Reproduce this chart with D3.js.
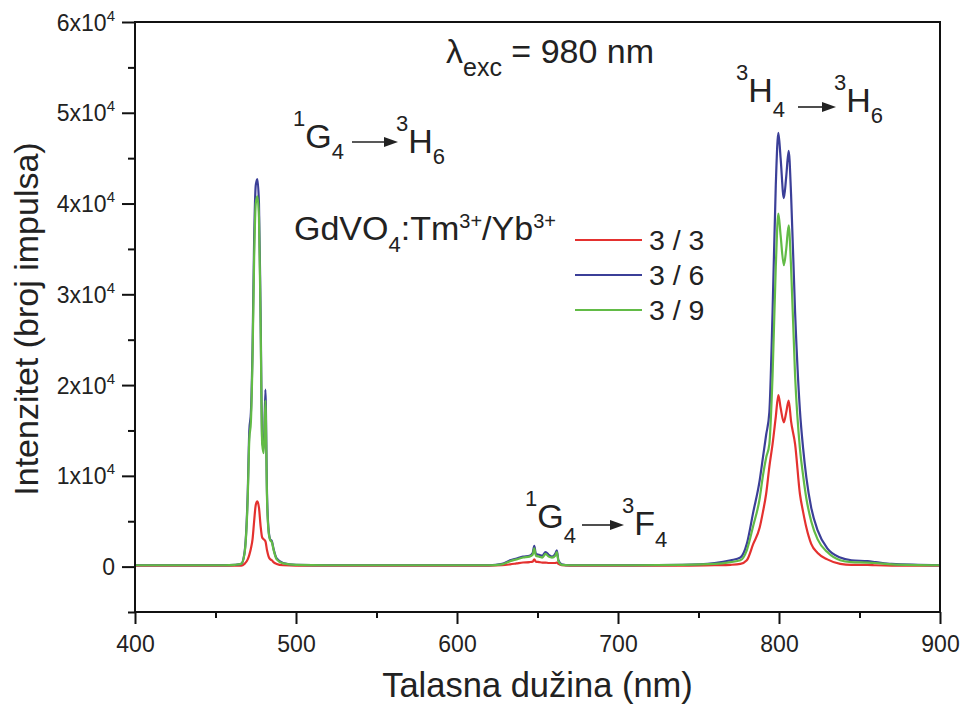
<!DOCTYPE html>
<html>
<head>
<meta charset="utf-8">
<script src="https://cdn.jsdelivr.net/npm/d3@7"></script>
<style>
  html, body { margin: 0; padding: 0; background: #fff; }
  svg { display: block; font-family: "Liberation Sans", Arial, Helvetica, sans-serif; }
</style>
</head>
<body>
<svg id="chart" width="963" height="709"></svg>
<script>
// ---------------- DATA ----------------
const wavelength = [400, 420, 440, 455, 462, 466, 468, 470, 471, 472, 473, 474, 475, 476, 477, 478, 479, 480, 481, 482, 483, 484, 485, 486, 488, 492, 500, 520, 560, 600, 620, 628, 633, 637, 641, 645, 647, 648, 649, 651, 653, 655, 657, 659, 661, 662, 663, 665, 670, 700, 740, 760, 770, 776, 780, 784, 788, 790, 792, 794, 796, 798, 799.6, 801, 803, 804.5, 806, 807.5, 810, 813, 815, 817, 820, 824, 830, 838, 845, 855, 860, 870, 900];

const series33 = [100, 100, 100, 100, 100, 100, 300, 800, 1300, 2000, 3000, 5000, 6800, 7200, 6500, 4500, 3200, 3000, 2800, 1800, 1100, 800, 700, 500, 300, 150, 100, 100, 100, 100, 100, 150, 250, 350, 450, 500, 550, 800, 550, 500, 450, 450, 400, 400, 400, 450, 300, 150, 100, 100, 100, 150, 200, 300, 700, 2500, 4300, 6000, 8000, 11000, 13500, 16500, 18900, 17500, 15900, 17000, 18300, 16000, 13500, 8000, 6000, 4300, 2500, 1500, 800, 300, 200, 200, 150, 100, 100];

const series36 = [150, 150, 150, 150, 200, 300, 1500, 8000, 15000, 17000, 24000, 36000, 42000, 42700, 40000, 28000, 14000, 13000, 19500, 8000, 4000, 3000, 2800, 2000, 900, 400, 200, 150, 150, 150, 150, 300, 700, 900, 1100, 1200, 1500, 2300, 1400, 1300, 1200, 1600, 1300, 1100, 1400, 1800, 700, 250, 150, 150, 200, 400, 700, 1000, 2500, 6000, 9500, 12000, 14500, 17000, 28000, 42000, 47800, 45000, 40600, 43000, 45800, 41000, 28000, 17200, 13000, 9800, 6500, 4000, 2000, 1000, 700, 600, 500, 300, 150];

const series39 = [150, 150, 150, 150, 200, 300, 1400, 7500, 14000, 16000, 23000, 34000, 40000, 40800, 38500, 27000, 13500, 12500, 18300, 7500, 3800, 2900, 2700, 1900, 800, 350, 200, 150, 150, 150, 150, 250, 600, 800, 1000, 1100, 1300, 2000, 1200, 1100, 1000, 1400, 1100, 1000, 1200, 1600, 600, 200, 150, 150, 200, 300, 500, 700, 1800, 4500, 7500, 10000, 12000, 13500, 21000, 33000, 38900, 36500, 33200, 35000, 37600, 33000, 21000, 13000, 10000, 7500, 5000, 3000, 1600, 700, 500, 450, 400, 250, 150];

const seriesNames = ["3 / 3", "3 / 6", "3 / 9"];
const seriesColors = ["#e4312f", "#3b3f98", "#62bb46"];

const xMajorTicks = [400, 500, 600, 700, 800, 900];
const xMinorTicks = [450, 550, 650, 750, 850];
const yMajorTicks = [0, 10000, 20000, 30000, 40000, 50000, 60000];
const yMajorLabels = [["0", ""], ["1x10", "4"], ["2x10", "4"], ["3x10", "4"], ["4x10", "4"], ["5x10", "4"], ["6x10", "4"]];
const yMinorTicks = [-5000, 5000, 15000, 25000, 35000, 45000, 55000];

// ---------------- CHART ----------------
const svg = d3.select("#chart");
const L = 135, R = 940, T = 22, B = 612;
const x = d3.scaleLinear().domain([400, 900]).range([L, R]);
const y = d3.scaleLinear().domain([-5000, 60000]).range([B, T]);

// data lines
const allSeries = [series33, series36, series39];
const line = d3.line()
  .x((d, i) => x(wavelength[i]))
  .y(d => y(d))
  .curve(d3.curveMonotoneX);

const gLines = svg.append("g");
allSeries.forEach((s, k) => {
  gLines.append("path")
    .datum(s)
    .attr("fill", "none")
    .attr("stroke", seriesColors[k])
    .attr("stroke-width", 2.2)
    .attr("stroke-linejoin", "round")
    .attr("d", line);
});

// frame
svg.append("rect")
  .attr("x", L).attr("y", T)
  .attr("width", R - L).attr("height", B - T)
  .attr("fill", "none").attr("stroke", "#111").attr("stroke-width", 2);

// x axis
const xAxisMajor = d3.axisBottom(x).tickValues(xMajorTicks).tickSize(12).tickSizeOuter(0).tickFormat(d => d);
const xAxisMinor = d3.axisBottom(x).tickValues(xMinorTicks).tickSize(6).tickSizeOuter(0).tickFormat("");
const gx = svg.append("g").attr("transform", `translate(0,${B})`).call(xAxisMajor);
const gxm = svg.append("g").attr("transform", `translate(0,${B})`).call(xAxisMinor);
[gx, gxm].forEach(g => {
  g.select(".domain").remove();
  g.selectAll(".tick line").attr("stroke", "#111").attr("stroke-width", 2);
});
gx.selectAll(".tick text")
  .attr("y", 40).attr("dy", 0)
  .attr("font-size", 23).attr("fill", "#222")
  .attr("font-family", "'Liberation Sans', Arial, sans-serif");

// y axis
const yAxisMajor = d3.axisLeft(y).tickValues(yMajorTicks).tickSize(13).tickSizeOuter(0).tickFormat("");
const yAxisMinor = d3.axisLeft(y).tickValues(yMinorTicks).tickSize(7).tickSizeOuter(0).tickFormat("");
const gy = svg.append("g").attr("transform", `translate(${L},0)`).call(yAxisMajor);
const gym = svg.append("g").attr("transform", `translate(${L},0)`).call(yAxisMinor);
[gy, gym].forEach(g => {
  g.select(".domain").remove();
  g.selectAll(".tick line").attr("stroke", "#111").attr("stroke-width", 2);
});
gy.selectAll(".tick text").each(function(d, i) {
  const t = d3.select(this)
    .attr("x", -20).attr("dy", null).attr("y", 8)
    .attr("font-size", 23).attr("fill", "#222")
    .attr("text-anchor", "end")
    .attr("font-family", "'Liberation Sans', Arial, sans-serif");
  t.text(null);
  t.append("tspan").text(yMajorLabels[i][0]);
  if (yMajorLabels[i][1]) t.append("tspan").attr("dy", -10).attr("font-size", 15).text(yMajorLabels[i][1]);
});

// axis titles
svg.append("text")
  .attr("x", (L + R) / 2).attr("y", 697)
  .attr("text-anchor", "middle").attr("font-size", 34.5).attr("fill", "#222")
  .text("Talasna dužina (nm)");
svg.append("text")
  .attr("transform", `translate(38,${(T + B) / 2 + 2}) rotate(-90)`)
  .attr("text-anchor", "middle").attr("font-size", 34).attr("fill", "#222")
  .text("Intenzitet (broj impulsa)");

// rich text helper: parts = [text, baselineOffset, size]
function rich(xp, yb, parts) {
  const t = svg.append("text").attr("x", xp).attr("y", yb).attr("fill", "#222");
  parts.forEach(p => {
    t.append("tspan").attr("y", yb + p[1]).attr("font-size", p[2]).text(p[0]);
  });
  return t;
}
function arrow(x1, x2, ya) {
  svg.append("line").attr("x1", x1).attr("x2", x2 - 10).attr("y1", ya).attr("y2", ya)
    .attr("stroke", "#222").attr("stroke-width", 1.6);
  svg.append("path")
    .attr("d", `M${x2},${ya} L${x2 - 14},${ya - 5} L${x2 - 14},${ya + 5} Z`)
    .attr("fill", "#222");
}

const M = 34, S = 22;
// λexc = 980 nm
rich(446, 63, [["λ", 0, M], ["exc", 13, 25], [" = 980 nm", 0, M]]);

// 1G4 -> 3H6
rich(293, 148, [["1", -22, S], ["G", 0, M], ["4", 11, S]]);
arrow(352, 398, 142);
rich(396, 153, [["3", -22, S], ["H", 0, M], ["6", 11, S]]);

// 3H4 -> 3H6
rich(736, 102, [["3", -22, S], ["H", 0, M], ["4", 15, S]]);
arrow(798, 836, 107);
rich(834, 112, [["3", -22, S], ["H", 0, M], ["6", 11, S]]);

// 1G4 -> 3F4
rich(525, 528, [["1", -22, S], ["G", 0, M], ["4", 15, S]]);
arrow(582, 624, 525);
rich(622, 535, [["3", -22, S], ["F", 0, M], ["4", 12, S]]);

// GdVO4:Tm3+/Yb3+
rich(294, 240, [["GdVO", 0, M], ["4", 12, S], [":Tm", 0, M], ["3+", -12, 20], ["/Yb", 0, M], ["3+", -12, 20]]);

// legend
const legendY = [240, 275, 310];
seriesNames.forEach((name, k) => {
  svg.append("line").attr("x1", 575).attr("x2", 642)
    .attr("y1", legendY[k]).attr("y2", legendY[k])
    .attr("stroke", seriesColors[k]).attr("stroke-width", 2);
  svg.append("text").attr("x", 649).attr("y", legendY[k] + 10)
    .attr("font-size", 28.5).attr("fill", "#222").text(name);
});
</script>
</body>
</html>
